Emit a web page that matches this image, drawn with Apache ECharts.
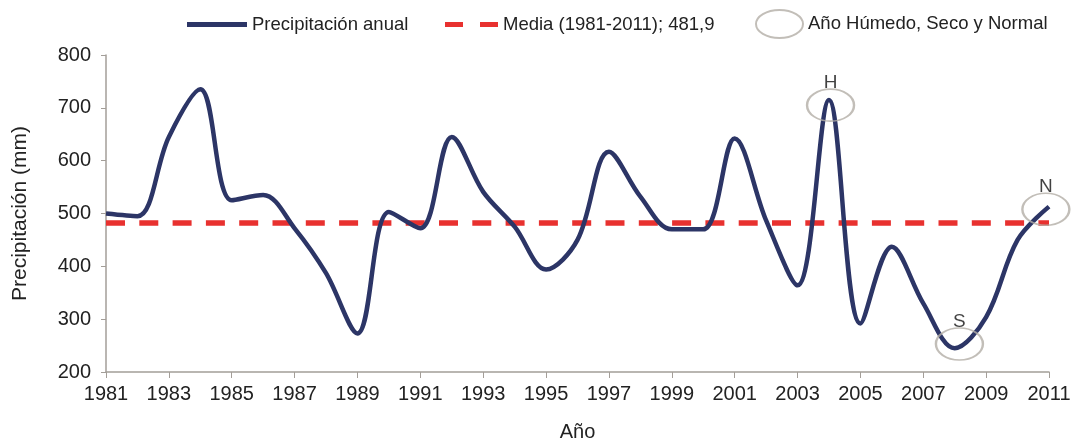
<!DOCTYPE html>
<html><head><meta charset="utf-8">
<script src="https://cdn.jsdelivr.net/npm/echarts@6/dist/echarts.min.js"></script>
<style>html,body{margin:0;padding:0;background:#fff}#c{width:1074px;height:441px}</style>
</head><body><div id="c"></div>
<script>
const years = [1981,1982,1983,1984,1985,1986,1987,1988,1989,1990,1991,1992,1993,1994,1995,1996,1997,1998,1999,2000,2001,2002,2003,2004,2005,2006,2007,2008,2009,2010,2011];
const precip = [500,495,645,735,525,535,472,387,273,503,472,645,541,475,394,450,617,532,470,470,642,487,364,715,292,437,330,245,304,450,513];
const meanValue = 481.9;
const markYears = [2004.05, 2008.15, 2010.9];
const markValues = [705, 253, 508];
const markLabels = ['H', 'S', 'N'];
const names = ['Precipitación anual', 'Media (1981-2011); 481,9', 'Año Húmedo, Seco y Normal'];

const font = 'Liberation Sans, Arial, sans-serif';
const navy = '#2c3566', red = '#e8312f', grayRing = '#b3aea6', axisGray = '#a39e98';
const legendText = {fontSize: 18.5, color: '#222', fontFamily: font};
const chart = echarts.init(document.getElementById('c'));
chart.setOption({
  animation: false,
  textStyle: {fontFamily: font},
  legend: [
    {left: 187, top: 15, padding: 0, itemWidth: 60, itemHeight: 5, icon: 'rect', textStyle: legendText,
     data: [{name: names[0]}]},
    {left: 445, top: 15, padding: 0, itemWidth: 53, itemHeight: 5,
     icon: 'path://M0,0h18v5h-18z M35,0h18v5h-18z', textStyle: legendText,
     data: [{name: names[1]}]},
    {left: 755, top: 9, padding: 0, itemWidth: 47, itemHeight: 28,
     icon: 'path://M0,14A23.5,14 0 1 1 47,14A23.5,14 0 1 1 0,14z',
     textStyle: legendText, data: [{name: names[2]}]}
  ],
  grid: {left: 106, right: 25, top: 55, bottom: 69, outerBoundsMode: 'none', containLabel: false},
  xAxis: {
    type: 'value', min: 1981, max: 2011, interval: 2,
    name: 'Año', nameLocation: 'middle', nameGap: 50,
    nameTextStyle: {fontSize: 20, color: '#222'},
    axisLine: {lineStyle: {color: axisGray, width: 1.5}},
    axisTick: {show: true, length: 6, lineStyle: {color: axisGray}},
    axisLabel: {fontSize: 20, color: '#222', margin: 12, formatter: v => String(v)},
    splitLine: {show: false}
  },
  yAxis: {
    type: 'value', min: 200, max: 800, interval: 100,
    name: 'Precipitación (mm)', nameLocation: 'middle', nameGap: 75,
    nameTextStyle: {fontSize: 21, color: '#222'},
    axisLine: {show: true, lineStyle: {color: axisGray, width: 1.5}},
    axisTick: {show: true, length: 5, lineStyle: {color: axisGray}},
    axisLabel: {fontSize: 20, color: '#222', margin: 15},
    splitLine: {show: false}
  },
  series: [
    {
      name: names[1], type: 'line', symbol: 'none', z: 1,
      data: years.map(y => [y, meanValue]),
      lineStyle: {color: red, width: 5.5, type: [19, 14.3]},
      itemStyle: {color: red}
    },
    {
      name: names[0], type: 'line', symbol: 'none', smooth: 0.35, z: 2,
      data: years.map((y, i) => [y, precip[i]]),
      lineStyle: {color: navy, width: 4.5},
      itemStyle: {color: navy}
    },
    {
      name: names[2], type: 'scatter', z: 3,
      symbol: 'circle', symbolSize: [47, 32],
      data: markYears.map((y, i) => ({value: [y, markValues[i]], label: {formatter: markLabels[i]}})),
      itemStyle: {color: 'rgba(0,0,0,0)', borderColor: grayRing, borderWidth: 2},
      label: {show: true, position: 'top', distance: -4, fontSize: 19, color: '#111'},
      emphasis: {disabled: true}
    }
  ]
});
</script></body></html>
